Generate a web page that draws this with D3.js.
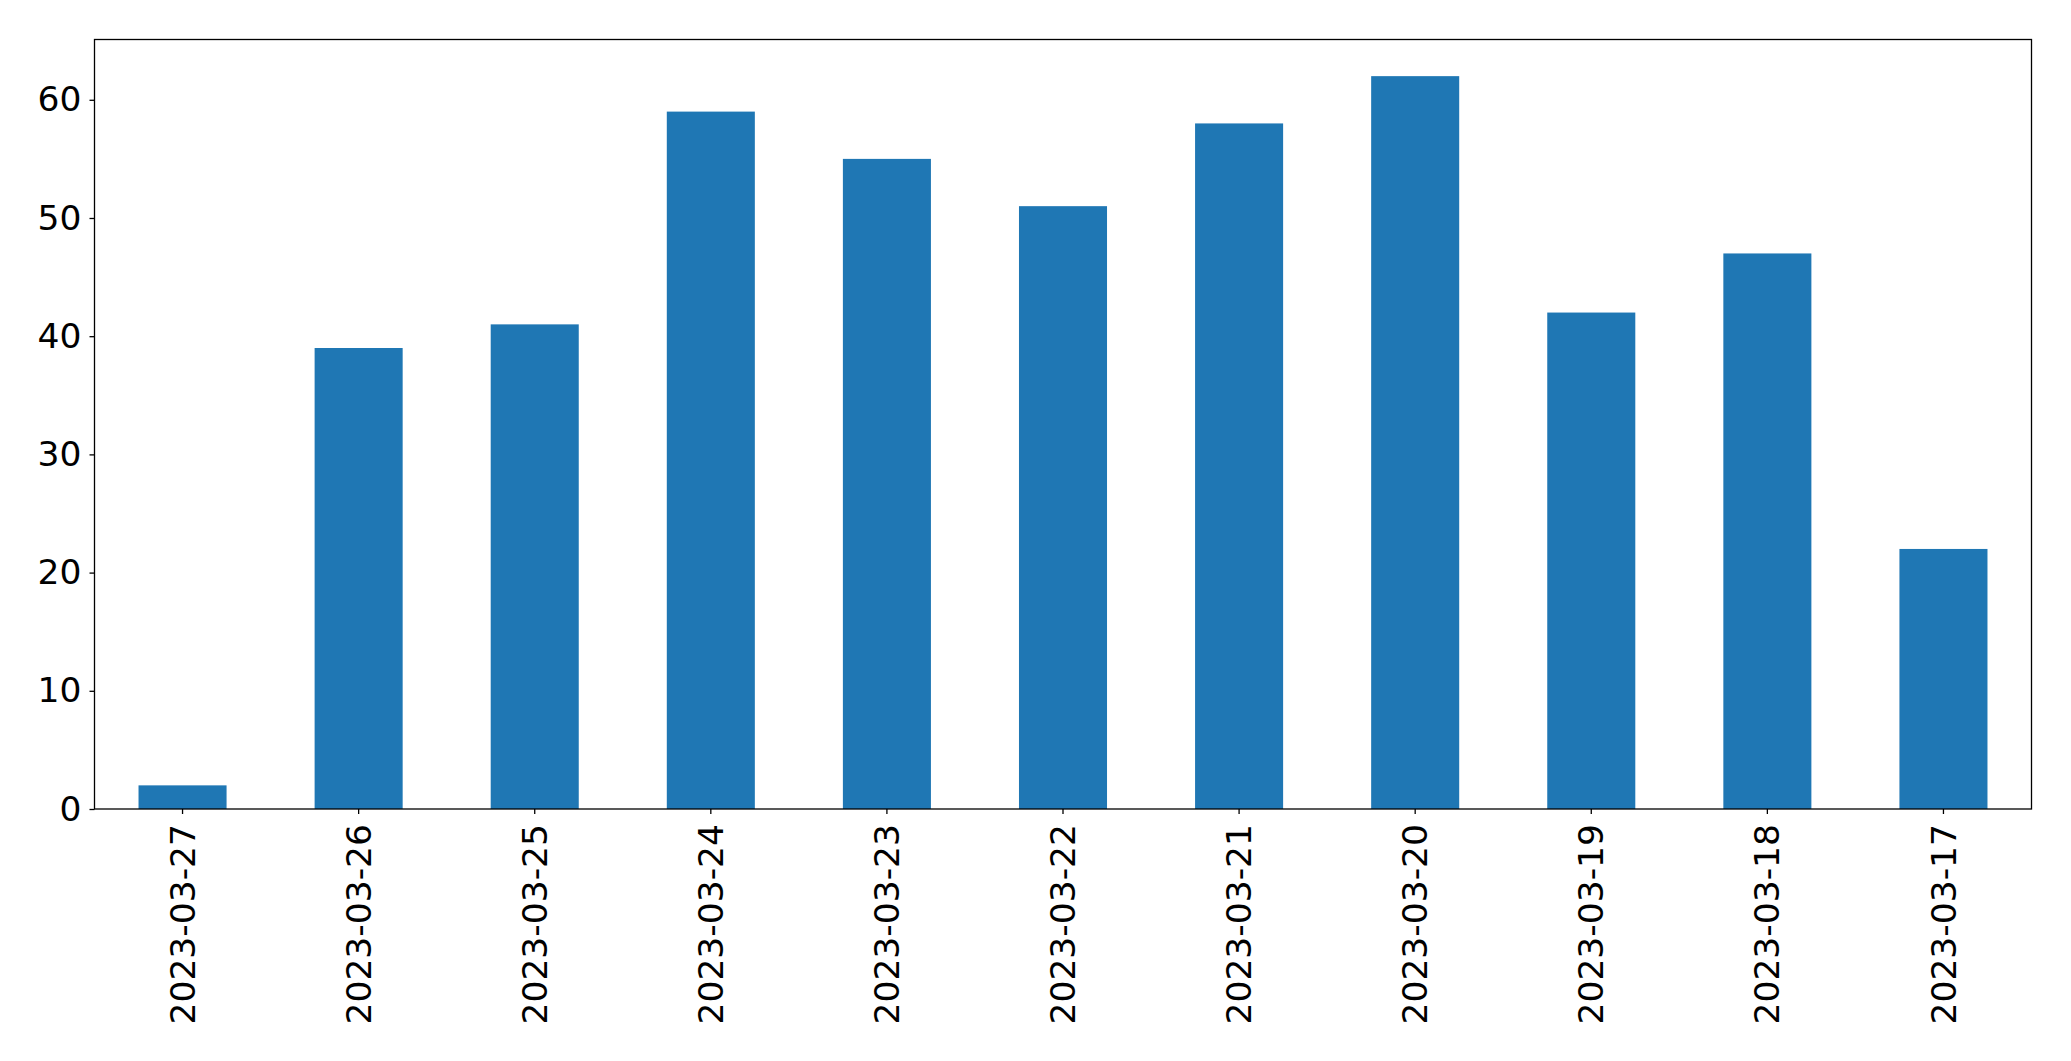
<!DOCTYPE html>
<html><head><meta charset="utf-8">
<script src="https://cdn.jsdelivr.net/npm/d3@7"></script>
<style>body{margin:0;background:#fff}svg{display:block}</style>
</head><body>
<script>
const categories = ["2023-03-27","2023-03-26","2023-03-25","2023-03-24","2023-03-23","2023-03-22","2023-03-21","2023-03-20","2023-03-19","2023-03-18","2023-03-17"];
const values = [2,39,41,59,55,51,58,62,42,47,22];
const yTicks = [0,10,20,30,40,50,60];

const W = 2071, H = 1061;
const m = {left:94.5, right:2071-2031.5, top:39.5, bottom:1061-809};
const svg = d3.select("body").append("svg").attr("width",W).attr("height",H);
const iw = W - m.left - m.right, ih = H - m.top - m.bottom;
const g = svg.append("g").attr("transform",`translate(${m.left},${m.top})`);

const x = d3.scaleBand().domain(categories).range([0, iw]).paddingInner(0.5).paddingOuter(0.25);
const y = d3.scaleLinear().domain([0, d3.max(values)*1.05]).range([ih, 0]);

g.selectAll("rect.bar").data(values).join("rect").attr("class","bar")
  .attr("x",(d,i)=>x(categories[i])).attr("width",x.bandwidth())
  .attr("y",d=>y(d)).attr("height",d=>ih-y(d)).attr("fill","#1f77b4");

const font = "DejaVu Sans, sans-serif";
const yAxis = g.append("g").call(d3.axisLeft(y).tickValues(yTicks).tickSize(5).tickPadding(8).tickFormat(d3.format("d")));
const xAxis = g.append("g").attr("transform",`translate(0,${ih})`).call(d3.axisBottom(x).tickSize(5).tickPadding(8));
[yAxis,xAxis].forEach(a=>{
  a.select(".domain").remove();
  a.selectAll(".tick line").attr("stroke","#000").attr("stroke-width",1.3);
  a.selectAll("text").attr("font-family",font).attr("font-size",34.5).attr("fill","#000");
});
xAxis.selectAll(".tick text")
  .attr("transform","rotate(-90)")
  .attr("text-anchor","end")
  .attr("dy","0.35em")
  .attr("x",-15).attr("y",0);

g.append("rect").attr("x",0).attr("y",0).attr("width",iw).attr("height",ih)
  .attr("fill","none").attr("stroke","#000").attr("stroke-width",1.3);
</script>
</body></html>
